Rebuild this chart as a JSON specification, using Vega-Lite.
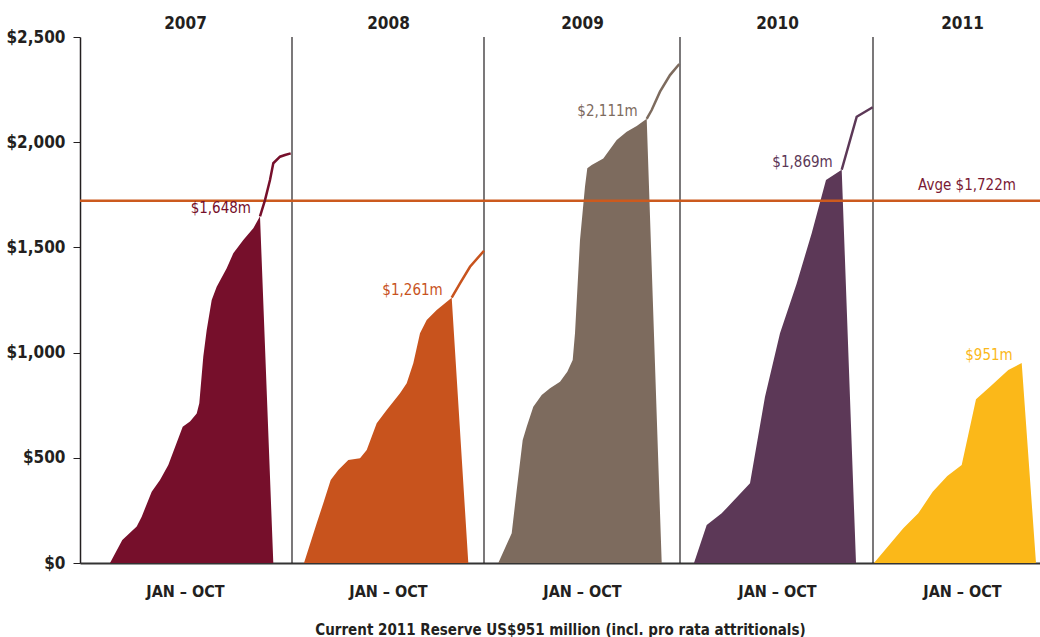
{
  "$schema": "https://vega.github.io/schema/vega-lite/v6.json",
  "width": 960,
  "height": 526,
  "autosize": {"type": "none"},
  "padding": {"left": 80, "top": 37, "right": 0, "bottom": 74},
  "background": "white",
  "config": {
    "view": {"stroke": null},
    "font": "DejaVu Sans Condensed, Liberation Sans Narrow, Roboto, sans-serif"
  },
  "datasets": {
    "areas": [
      {"year": "2007", "pos": 30, "value": 0},
      {"year": "2007", "pos": 42.3, "value": 109},
      {"year": "2007", "pos": 56.7, "value": 173},
      {"year": "2007", "pos": 61.7, "value": 220},
      {"year": "2007", "pos": 71.7, "value": 339},
      {"year": "2007", "pos": 80, "value": 394},
      {"year": "2007", "pos": 88.3, "value": 466},
      {"year": "2007", "pos": 102.7, "value": 648},
      {"year": "2007", "pos": 110, "value": 672},
      {"year": "2007", "pos": 116.7, "value": 711},
      {"year": "2007", "pos": 119.3, "value": 759},
      {"year": "2007", "pos": 123.3, "value": 981},
      {"year": "2007", "pos": 126.7, "value": 1107},
      {"year": "2007", "pos": 131.7, "value": 1250},
      {"year": "2007", "pos": 136.7, "value": 1313},
      {"year": "2007", "pos": 146.7, "value": 1401},
      {"year": "2007", "pos": 153.3, "value": 1472},
      {"year": "2007", "pos": 163.3, "value": 1535},
      {"year": "2007", "pos": 173.3, "value": 1591},
      {"year": "2007", "pos": 180, "value": 1648},
      {"year": "2007", "pos": 193.3, "value": 0},
      {"year": "2008", "pos": 224, "value": 0},
      {"year": "2008", "pos": 236.7, "value": 189},
      {"year": "2008", "pos": 243.3, "value": 284},
      {"year": "2008", "pos": 250.7, "value": 394},
      {"year": "2008", "pos": 258.3, "value": 442},
      {"year": "2008", "pos": 268.3, "value": 490},
      {"year": "2008", "pos": 280, "value": 498},
      {"year": "2008", "pos": 286.7, "value": 537},
      {"year": "2008", "pos": 296.7, "value": 664},
      {"year": "2008", "pos": 306.7, "value": 727},
      {"year": "2008", "pos": 320, "value": 807},
      {"year": "2008", "pos": 326.7, "value": 854},
      {"year": "2008", "pos": 333.3, "value": 949},
      {"year": "2008", "pos": 340, "value": 1092},
      {"year": "2008", "pos": 346.7, "value": 1155},
      {"year": "2008", "pos": 356.7, "value": 1202},
      {"year": "2008", "pos": 371.7, "value": 1261},
      {"year": "2008", "pos": 388.3, "value": 0},
      {"year": "2009", "pos": 418.3, "value": 0},
      {"year": "2009", "pos": 431.7, "value": 141},
      {"year": "2009", "pos": 436.7, "value": 347},
      {"year": "2009", "pos": 442.7, "value": 585},
      {"year": "2009", "pos": 446.7, "value": 648},
      {"year": "2009", "pos": 453.3, "value": 743},
      {"year": "2009", "pos": 461.7, "value": 798},
      {"year": "2009", "pos": 470, "value": 830},
      {"year": "2009", "pos": 480, "value": 862},
      {"year": "2009", "pos": 487.3, "value": 909},
      {"year": "2009", "pos": 492.7, "value": 965},
      {"year": "2009", "pos": 495, "value": 1092},
      {"year": "2009", "pos": 500, "value": 1535},
      {"year": "2009", "pos": 505, "value": 1789},
      {"year": "2009", "pos": 507.3, "value": 1876},
      {"year": "2009", "pos": 511.7, "value": 1892},
      {"year": "2009", "pos": 523.3, "value": 1923},
      {"year": "2009", "pos": 536.7, "value": 2010},
      {"year": "2009", "pos": 546.7, "value": 2050},
      {"year": "2009", "pos": 556.7, "value": 2077},
      {"year": "2009", "pos": 566.7, "value": 2111},
      {"year": "2009", "pos": 581.7, "value": 0},
      {"year": "2010", "pos": 614, "value": 0},
      {"year": "2010", "pos": 626.7, "value": 181},
      {"year": "2010", "pos": 641.7, "value": 236},
      {"year": "2010", "pos": 670, "value": 379},
      {"year": "2010", "pos": 685, "value": 790},
      {"year": "2010", "pos": 700, "value": 1092},
      {"year": "2010", "pos": 716.7, "value": 1329},
      {"year": "2010", "pos": 731.7, "value": 1567},
      {"year": "2010", "pos": 746, "value": 1820},
      {"year": "2010", "pos": 761.7, "value": 1869},
      {"year": "2010", "pos": 776, "value": 0},
      {"year": "2011", "pos": 794, "value": 0},
      {"year": "2011", "pos": 823.3, "value": 165},
      {"year": "2011", "pos": 838.3, "value": 236},
      {"year": "2011", "pos": 852.7, "value": 339},
      {"year": "2011", "pos": 867.3, "value": 413},
      {"year": "2011", "pos": 881.7, "value": 466},
      {"year": "2011", "pos": 896, "value": 778},
      {"year": "2011", "pos": 910, "value": 838},
      {"year": "2011", "pos": 928.3, "value": 917},
      {"year": "2011", "pos": 941.7, "value": 951},
      {"year": "2011", "pos": 956, "value": 0}
    ],
    "tails": [
      {"year": "2007", "pos": 180, "value": 1648},
      {"year": "2007", "pos": 185, "value": 1725},
      {"year": "2007", "pos": 190, "value": 1820},
      {"year": "2007", "pos": 193.3, "value": 1900},
      {"year": "2007", "pos": 200, "value": 1931},
      {"year": "2007", "pos": 205, "value": 1939},
      {"year": "2007", "pos": 210.7, "value": 1947},
      {"year": "2008", "pos": 371.7, "value": 1261},
      {"year": "2008", "pos": 380, "value": 1329},
      {"year": "2008", "pos": 390, "value": 1408},
      {"year": "2008", "pos": 404, "value": 1484},
      {"year": "2009", "pos": 566.7, "value": 2111},
      {"year": "2009", "pos": 571.7, "value": 2153},
      {"year": "2009", "pos": 580, "value": 2240},
      {"year": "2009", "pos": 590, "value": 2319},
      {"year": "2009", "pos": 599.3, "value": 2372},
      {"year": "2010", "pos": 761.7, "value": 1869},
      {"year": "2010", "pos": 776.7, "value": 2121},
      {"year": "2010", "pos": 792.7, "value": 2166}
    ],
    "peaks": [
      {"year": "2007", "pos": 180, "value": 1648, "label": "$1,648m"},
      {"year": "2008", "pos": 371.7, "value": 1261, "label": "$1,261m"},
      {"year": "2009", "pos": 566.7, "value": 2111, "label": "$2,111m"},
      {"year": "2010", "pos": 761.7, "value": 1869, "label": "$1,869m"},
      {"year": "2011", "pos": 941.7, "value": 951, "label": "$951m"}
    ],
    "dividers": [
      {"pos": 212}, {"pos": 404}, {"pos": 600}, {"pos": 793}
    ],
    "avg": [
      {"pos": 887, "value": 1722, "label": "Avge $1,722m"}
    ]
  },
  "layer": [
    {
      "data": {"name": "dividers"},
      "mark": {"type": "rule", "color": "#231f20", "strokeWidth": 1.2},
      "encoding": {
        "x": {
          "field": "pos", "type": "quantitative",
          "scale": {"domain": [0, 960], "nice": false, "zero": false},
          "axis": {
            "orient": "top",
            "values": [105, 308, 502, 697, 882],
            "labelExpr": "datum.value < 200 ? '2007' : datum.value < 400 ? '2008' : datum.value < 600 ? '2009' : datum.value < 800 ? '2010' : '2011'",
            "domain": false, "ticks": false, "tickSize": 0, "grid": false,
            "labelFontSize": 17, "labelFontWeight": "bold", "labelColor": "#231f20",
            "labelPadding": 5, "title": null
          }
        }
      }
    },
    {
      "data": {"name": "areas"},
      "mark": {"type": "area", "interpolate": "linear"},
      "encoding": {
        "x": {
          "field": "pos", "type": "quantitative",
          "scale": {"domain": [0, 960], "nice": false, "zero": false},
          "axis": {
            "orient": "bottom",
            "values": [105, 308, 502, 697, 882],
            "labelExpr": "'JAN – OCT'",
            "ticks": false, "tickSize": 0, "grid": false,
            "domainColor": "#333333", "domainWidth": 2,
            "labelFontSize": 16, "labelFontWeight": "bold", "labelColor": "#231f20",
            "labelPadding": 20,
            "title": "Current 2011 Reserve US$951 million (incl. pro rata attritionals)",
            "titleFontSize": 15, "titleFontWeight": "bold", "titleColor": "#231f20",
            "titlePadding": 23
          }
        },
        "y": {
          "field": "value", "type": "quantitative",
          "scale": {"domain": [0, 2500], "nice": false},
          "axis": {
            "orient": "left",
            "values": [0, 500, 1000, 1500, 2000, 2500],
            "labelExpr": "'$' + format(datum.value, ',')",
            "grid": false, "tickSize": 7, "tickColor": "#231f20", "tickWidth": 1,
            "domainColor": "#231f20", "domainWidth": 1.5,
            "labelFontSize": 17, "labelFontWeight": "bold", "labelColor": "#231f20",
            "labelPadding": 8, "title": null
          }
        },
        "color": {
          "field": "year", "type": "nominal",
          "scale": {"domain": ["2007", "2008", "2009", "2010", "2011"], "range": ["#760f2b", "#c8531d", "#7d6b5e", "#5c3857", "#fbb819"]},
          "legend": null
        }
      }
    },
    {
      "data": {"name": "avg"},
      "mark": {"type": "rule", "color": "#cc5a1e", "strokeWidth": 2.5},
      "encoding": {
        "y": {"field": "value", "type": "quantitative"}
      }
    },
    {
      "data": {"name": "tails"},
      "mark": {"type": "line", "strokeWidth": 2.5},
      "encoding": {
        "x": {"field": "pos", "type": "quantitative", "axis": null},
        "y": {"field": "value", "type": "quantitative"},
        "color": {"field": "year", "type": "nominal", "legend": null}
      }
    },
    {
      "data": {"name": "peaks"},
      "mark": {"type": "text", "align": "right", "baseline": "middle", "dx": -9, "dy": -8, "fontSize": 15},
      "encoding": {
        "x": {"field": "pos", "type": "quantitative", "axis": null},
        "y": {"field": "value", "type": "quantitative"},
        "text": {"field": "label"},
        "color": {"field": "year", "type": "nominal", "legend": null}
      }
    },
    {
      "data": {"name": "avg"},
      "mark": {"type": "text", "align": "center", "baseline": "bottom", "dy": -8, "fontSize": 15, "color": "#7a1a35"},
      "encoding": {
        "x": {"field": "pos", "type": "quantitative", "axis": null},
        "y": {"field": "value", "type": "quantitative"},
        "text": {"field": "label"}
      }
    }
  ]
}
